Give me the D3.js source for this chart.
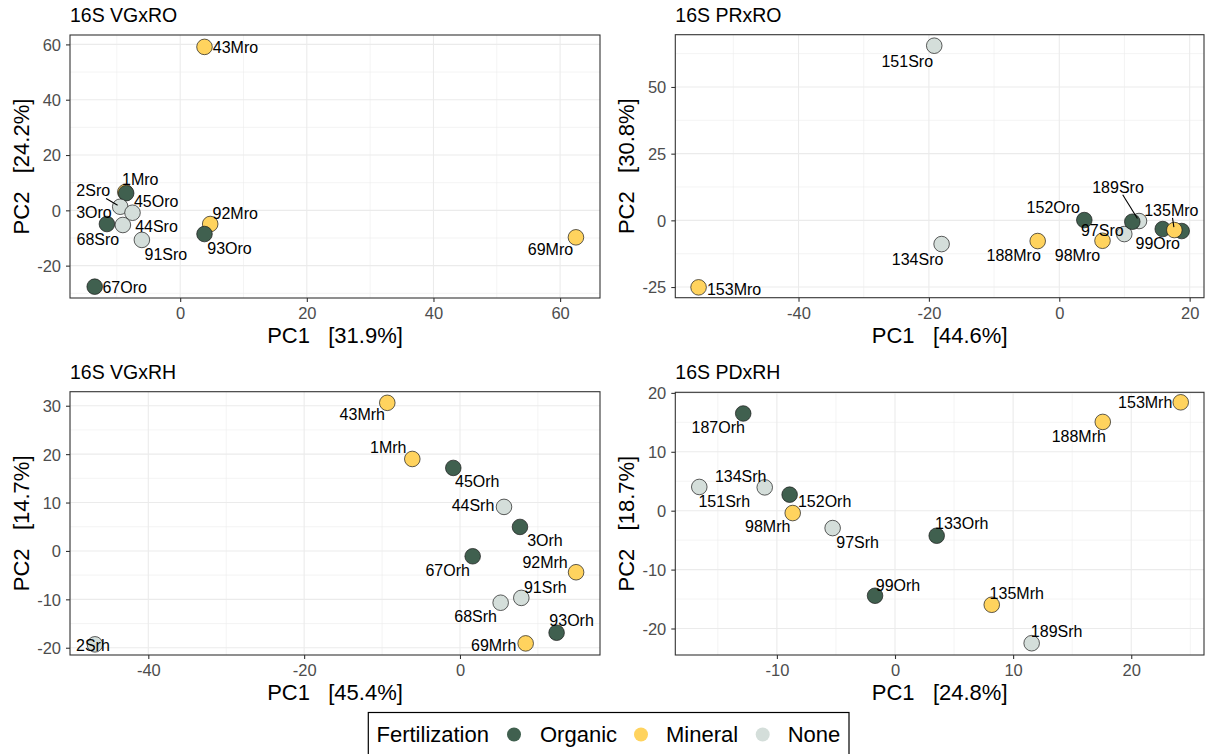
<!DOCTYPE html>
<html><head><meta charset="utf-8">
<script src="https://cdn.jsdelivr.net/npm/d3@7"></script>
<style>
body{margin:0;background:#fff}
text{font-family:"Liberation Sans",Arial,Helvetica,sans-serif;white-space:pre}
</style>
</head><body>
<svg id="chart" width="1205" height="754"></svg>
<script>
// ---------------- DATA ----------------
const groupNames = ["Organic", "Mineral", "None"];
const groupColors = ["#40604f", "#ffd35e", "#d4deda"];
const legendTitle = "Fertilization";

// Panel 1: 16S VGxRO
const vgroTitle = "16S VGxRO";
const vgroXLabel = "PC1   [31.9%]";
const vgroYLabel = "PC2   [24.2%]";
const vgroXTicks = [0, 20, 40, 60];
const vgroYTicks = [-20, 0, 20, 40, 60];
const vgroXDomain = [-17.4, 66.3];
const vgroYDomain = [-31.7, 63.4];
const vgroNames = ["43Mro","69Mro","92Mro","93Oro","1Mro","45Oro","3Oro","67Oro","2Sro","44Sro","68Sro","91Sro"];
const vgroPC1 = [3.84, 62.5, 4.74, 3.84, -8.67, -8.53, -11.57, -13.5, -9.47, -7.53, -9.05, -6.05];
const vgroPC2 = [59.1, -9.76, -4.95, -8.57, 6.6, 6.2, -4.95, -27.6, 1.3, -0.87, -5.3, -10.7];
const vgroGroup = ["Mineral","Mineral","Mineral","Organic","Mineral","Organic","Organic","Organic","None","None","None","None"];

// Panel 2: 16S PRxRO
const prroTitle = "16S PRxRO";
const prroXLabel = "PC1   [44.6%]";
const prroYLabel = "PC2   [30.8%]";
const prroXTicks = [-40, -20, 0, 20];
const prroYTicks = [-25, 0, 25, 50];
const prroXDomain = [-58.9, 22.2];
const prroYDomain = [-29.0, 69.6];
const prroNames = ["153Mro","151Sro","134Sro","188Mro","98Mro","152Oro","97Sro","189Sro","187Oro","99Oro","133Oro","135Mro"];
const prroPC1 = [-55.33, -19.18, -18.05, -3.31, 6.63, 3.84, 9.97, 12.23, 11.2, 15.87, 18.78, 17.65];
const prroPC2 = [-25.12, 65.47, -8.89, -7.76, -7.65, 0.11, -5.14, -0.26, -0.52, -3.26, -4.01, -3.64];
const prroGroup = ["Mineral","None","None","Mineral","Mineral","Organic","None","None","Organic","Organic","Organic","Mineral"];

// Panel 3: 16S VGxRH
const vgrhTitle = "16S VGxRH";
const vgrhXLabel = "PC1   [45.4%]";
const vgrhYLabel = "PC2   [14.7%]";
const vgrhXTicks = [-40, -20, 0];
const vgrhYTicks = [-20, -10, 0, 10, 20, 30];
const vgrhXDomain = [-50.05, 17.97];
const vgrhYDomain = [-21.5, 32.9];
const vgrhNames = ["43Mrh","1Mrh","45Orh","44Srh","3Orh","67Orh","92Mrh","91Srh","68Srh","93Orh","69Mrh","2Srh"];
const vgrhPC1 = [-9.33, -6.12, -0.86, 5.65, 7.7, 1.63, 14.9, 7.87, 5.22, 12.4, 8.43, -46.85];
const vgrhPC2 = [30.6, 19.0, 17.15, 9.1, 4.96, -1.1, -4.4, -9.7, -10.7, -16.9, -19.1, -19.3];
const vgrhGroup = ["Mineral","Mineral","Organic","None","Organic","Organic","Mineral","None","None","Organic","Mineral","None"];

// Panel 4: 16S PDxRH
const pdrhTitle = "16S PDxRH";
const pdrhXLabel = "PC1   [24.8%]";
const pdrhYLabel = "PC2   [18.7%]";
const pdrhXTicks = [-10, 0, 10, 20];
const pdrhYTicks = [-20, -10, 0, 10, 20];
const pdrhXDomain = [-18.6, 26.16];
const pdrhYDomain = [-24.5, 20.1];
const pdrhNames = ["187Orh","151Srh","134Srh","152Orh","98Mrh","97Srh","99Orh","133Orh","135Mrh","189Srh","188Mrh","153Mrh"];
const pdrhPC1 = [-12.85, -16.57, -11.03, -8.92, -8.66, -5.28, -1.69, 3.53, 8.19, 11.57, 17.59, 24.19];
const pdrhPC2 = [16.5, 4.03, 3.96, 2.72, -0.4, -2.95, -14.44, -4.25, -15.97, -22.5, 15.07, 18.4];
const pdrhGroup = ["Organic","None","None","Organic","Mineral","None","Organic","Organic","Mineral","None","Mineral","Mineral"];

// ---------------- LAYOUT (positions, not data) ----------------
// label nudges in px from point centre to text centre (null = label dropped), third item = leader line
const vgroLabelPos = [[31,0],[-25.5,12],[25,-11],[25,14],[15,-13],[30,8.5],[-13,-12],[30,1],[-27,-16,1],[24,14],[-25,14],[24,14]];
const prroLabelPos = [[35.5,1.5],[-27,16],[-24,15],[-24,14],[-25,14],[-31,-13],[-22,-4],[-21,-34,1],null,[-5,14],null,[-3,-20,1]];
const vgrhLabelPos = [[-25,11],[-24,-12],[24,13],[-31,-2],[25,13],[-25,14],[-31,-10],[24,-11],[-25,14],[15,-12],[-32,2],[-2,1]];
const pdrhLabelPos = [[-25,14],[25,14],[-24,-11],[35,7],[-25,13],[25,14],[23,-11],[25,-12],[25,-12],[25,-12],[-24,14],[-35.5,0]];

const panels = [
  {title: vgroTitle, xl: vgroXLabel, yl: vgroYLabel, xt: vgroXTicks, yt: vgroYTicks, xd: vgroXDomain, yd: vgroYDomain,
   names: vgroNames, x: vgroPC1, y: vgroPC2, g: vgroGroup, lp: vgroLabelPos, box: [70, 35, 600, 298]},
  {title: prroTitle, xl: prroXLabel, yl: prroYLabel, xt: prroXTicks, yt: prroYTicks, xd: prroXDomain, yd: prroYDomain,
   names: prroNames, x: prroPC1, y: prroPC2, g: prroGroup, lp: prroLabelPos, box: [675.3, 34.7, 1204, 297.7]},
  {title: vgrhTitle, xl: vgrhXLabel, yl: vgrhYLabel, xt: vgrhXTicks, yt: vgrhYTicks, xd: vgrhXDomain, yd: vgrhYDomain,
   names: vgrhNames, x: vgrhPC1, y: vgrhPC2, g: vgrhGroup, lp: vgrhLabelPos, box: [70, 391.7, 600, 655]},
  {title: pdrhTitle, xl: pdrhXLabel, yl: pdrhYLabel, xt: pdrhXTicks, yt: pdrhYTicks, xd: pdrhXDomain, yd: pdrhYDomain,
   names: pdrhNames, x: pdrhPC1, y: pdrhPC2, g: pdrhGroup, lp: pdrhLabelPos, box: [675.3, 392.3, 1204, 655]}
];

const color = d3.scaleOrdinal().domain(groupNames).range(groupColors);
const svg = d3.select("#chart");
const R = 7.8;
const fmt = d => String(d);

function minorTicks(ticks, domain) {
  const step = ticks[1] - ticks[0];
  const out = [];
  for (let v = ticks[0] - step / 2; v <= domain[1]; v += step) {
    if (v >= domain[0]) out.push(v);
  }
  for (let v = ticks[0] - step * 1.5; v >= domain[0]; v -= step) out.push(v);
  return out;
}

panels.forEach(p => {
  const [x0, y0, x1, y1] = p.box;
  const xs = d3.scaleLinear().domain(p.xd).range([x0, x1]);
  const ys = d3.scaleLinear().domain(p.yd).range([y1, y0]);
  const g = svg.append("g");

  // grid
  const grid = g.append("g");
  minorTicks(p.xt, p.xd).forEach(v => grid.append("line").attr("x1", xs(v)).attr("x2", xs(v)).attr("y1", y0).attr("y2", y1)
    .attr("stroke", "#ececec").attr("stroke-width", 0.6));
  minorTicks(p.yt, p.yd).forEach(v => grid.append("line").attr("y1", ys(v)).attr("y2", ys(v)).attr("x1", x0).attr("x2", x1)
    .attr("stroke", "#ececec").attr("stroke-width", 0.6));
  p.xt.forEach(v => grid.append("line").attr("x1", xs(v)).attr("x2", xs(v)).attr("y1", y0).attr("y2", y1)
    .attr("stroke", "#ebebeb").attr("stroke-width", 1.1));
  p.yt.forEach(v => grid.append("line").attr("y1", ys(v)).attr("y2", ys(v)).attr("x1", x0).attr("x2", x1)
    .attr("stroke", "#ebebeb").attr("stroke-width", 1.1));

  // axes
  const xAxis = g.append("g").attr("transform", `translate(0,${y1})`)
    .call(d3.axisBottom(xs).tickValues(p.xt).tickSize(4).tickPadding(3).tickFormat(fmt));
  const yAxis = g.append("g").attr("transform", `translate(${x0},0)`)
    .call(d3.axisLeft(ys).tickValues(p.yt).tickSize(4).tickPadding(5).tickFormat(fmt));
  [xAxis, yAxis].forEach(a => {
    a.select(".domain").remove();
    a.selectAll(".tick line").attr("stroke", "#333").attr("stroke-width", 1.1);
    a.selectAll(".tick text").attr("fill", "#4d4d4d").style("font-size", "16.5px")
      .style("font-family", "'Liberation Sans', Arial, sans-serif");
  });
  xAxis.selectAll(".tick text").attr("dy", "0.85em");
  yAxis.selectAll(".tick text").attr("dy", "0.36em");

  // panel border
  g.append("rect").attr("x", x0).attr("y", y0).attr("width", x1 - x0).attr("height", y1 - y0)
    .attr("fill", "none").attr("stroke", "#333").attr("stroke-width", 1.1);

  // titles
  g.append("text").attr("x", x0).attr("y", y0 - 13).text(p.title)
    .style("font-size", "19.5px").attr("fill", "#000");
  g.append("text").attr("x", (x0 + x1) / 2).attr("y", y1 + 45).attr("text-anchor", "middle")
    .text(p.xl).style("font-size", "22px").attr("fill", "#000");
  g.append("text").attr("transform", `translate(${x0 - 41},${(y0 + y1) / 2}) rotate(-90)`)
    .attr("text-anchor", "middle").text(p.yl).style("font-size", "22px").attr("fill", "#000");

  const data = p.names.map((n, i) => ({name: n, x: p.x[i], y: p.y[i], g: p.g[i], lp: p.lp[i]}));

  // points
  g.append("g").selectAll("circle").data(data).join("circle")
    .attr("cx", d => xs(d.x)).attr("cy", d => ys(d.y)).attr("r", R)
    .attr("fill", d => color(d.g)).attr("stroke", "#1a1a1a").attr("stroke-width", 0.7);

  // labels
  const lg = g.append("g");
  data.filter(d => d.lp).forEach(d => {
    const px = xs(d.x), py = ys(d.y);
    const tx = px + d.lp[0], ty = py + d.lp[1];
    const t = lg.append("text").attr("x", tx).attr("y", ty).attr("dy", "0.36em")
      .attr("text-anchor", "middle").text(d.name).style("font-size", "16px").attr("fill", "#000");
    if (d.lp[2]) {
      const bb = t.node().getBBox();
      const hw = bb.width / 2 + 1, hh = bb.height / 2 - 1;
      const cx = bb.x + bb.width / 2, cy = bb.y + bb.height / 2;
      const dx = px - cx, dy = py - cy;
      const s = Math.min(Math.abs(hw / (dx || 1e-6)), Math.abs(hh / (dy || 1e-6)));
      const sx = cx + dx * s, sy = cy + dy * s;
      const len = Math.hypot(px - sx, py - sy);
      const ex = px - (px - sx) / len * 3, ey = py - (py - sy) / len * 3;
      lg.insert("line", "text").attr("x1", sx).attr("y1", sy).attr("x2", ex).attr("y2", ey)
        .attr("stroke", "#000").attr("stroke-width", 1.1);
    }
  });
});

// legend
const leg = svg.append("g");
leg.append("rect").attr("x", 368.3).attr("y", 712.5).attr("width", 480.7).attr("height", 60)
  .attr("fill", "#fff").attr("stroke", "#000").attr("stroke-width", 1.2);
leg.append("text").attr("x", 376.5).attr("y", 742).text(legendTitle).style("font-size", "22px");
const legX = [514, 641, 762.7];
const legTX = [540, 666, 787.7];
groupNames.forEach((n, i) => {
  leg.append("circle").attr("cx", legX[i]).attr("cy", 734.5).attr("r", 7).attr("fill", color(n));
  leg.append("text").attr("x", legTX[i]).attr("y", 742).text(n).style("font-size", "22px");
});
</script>
</body></html>
